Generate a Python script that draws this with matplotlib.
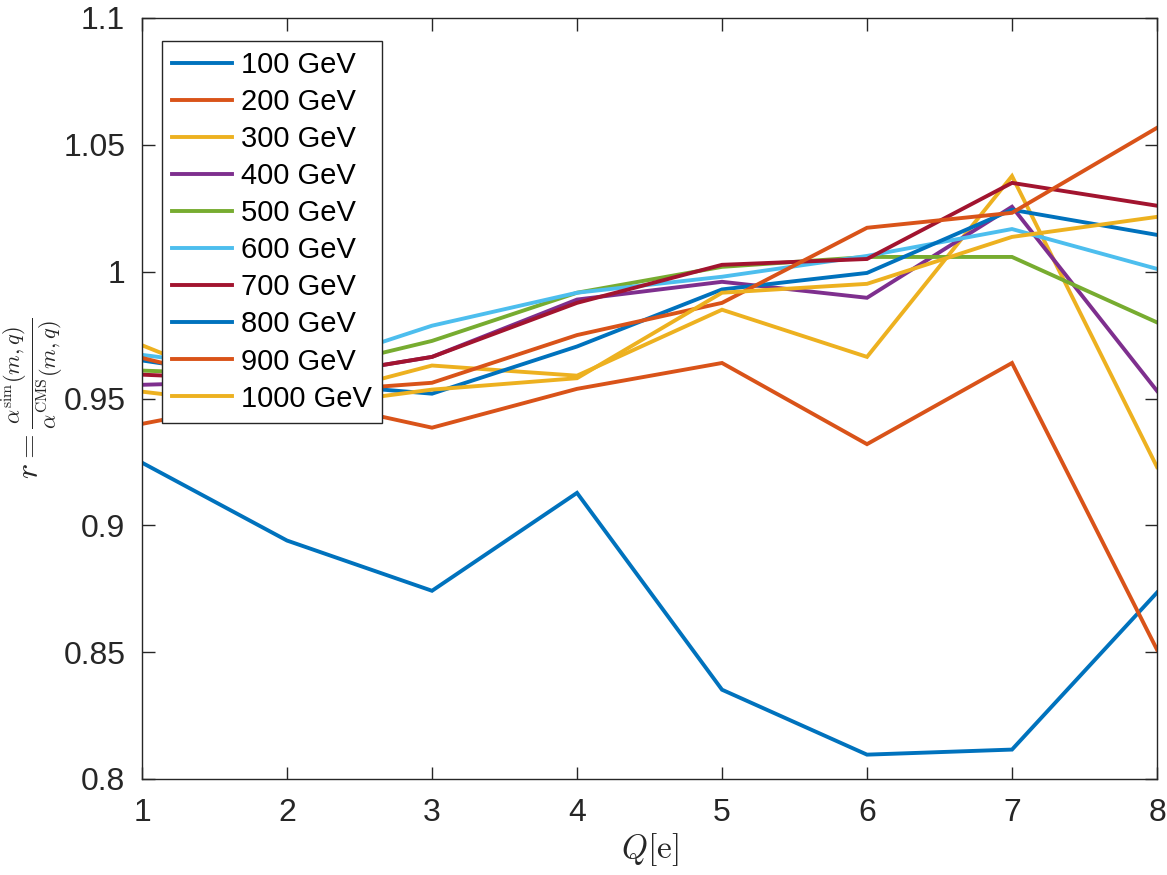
"""Ratio of simulated to CMS alpha versus charge, one line per mass."""

import matplotlib
matplotlib.use("Agg")
import matplotlib.pyplot as plt

plt.rcParams["font.family"] = ["Liberation Sans", "DejaVu Sans"]
plt.rcParams["mathtext.fontset"] = "cm"

charges = [1, 2, 3, 4, 5, 6, 7, 8]
labels = ["100 GeV", "200 GeV", "300 GeV", "400 GeV", "500 GeV",
          "600 GeV", "700 GeV", "800 GeV", "900 GeV", "1000 GeV"]

r_100 = [0.9247, 0.894, 0.8742, 0.9128, 0.8352, 0.8096, 0.8116, 0.8735]
r_200 = [0.940, 0.951, 0.9385, 0.9538, 0.964, 0.932, 0.964, 0.851]
r_300 = [0.971, 0.948, 0.963, 0.959, 0.985, 0.9664, 1.0377, 0.923]
r_400 = [0.9554, 0.957, 0.9664, 0.989, 0.996, 0.9897, 1.0256, 0.953]
r_500 = [0.961, 0.959, 0.9727, 0.9917, 1.0019, 1.0058, 1.0058, 0.980]
r_600 = [0.9672, 0.960, 0.9787, 0.9917, 0.998, 1.0062, 1.0168, 1.0011]
r_700 = [0.9594, 0.957, 0.9664, 0.9877, 1.0027, 1.005, 1.035, 1.026]
r_800 = [0.965, 0.9566, 0.9519, 0.9705, 0.993, 0.9995, 1.0244, 1.0145]
r_900 = [0.966, 0.952, 0.9562, 0.975, 0.9877, 1.0173, 1.0232, 1.0567]
r_1000 = [0.9527, 0.946, 0.9535, 0.958, 0.9917, 0.9952, 1.0137, 1.0216]

series = [r_100, r_200, r_300, r_400, r_500, r_600, r_700, r_800, r_900, r_1000]

# MATLAB default colour order
colors = ["#0072BD", "#D95319", "#EDB120", "#7E2F8E", "#77AC30",
          "#4DBEEE", "#A2142F"]

yticks = [0.8, 0.85, 0.9, 0.95, 1.0, 1.05, 1.1]
ytick_labels = ["0.8", "0.85", "0.9", "0.95", "1", "1.05", "1.1"]

fig = plt.figure(figsize=(11.67, 8.75), dpi=100)
ax = fig.add_axes([142 / 1167, 1 - 779 / 875, 1015 / 1167, 761 / 875])

for i, (vals, lab) in enumerate(zip(series, labels)):
    ax.plot(charges, vals, color=colors[i % len(colors)], lw=2.8,
            label=lab, solid_joinstyle="miter")

ax.set_xlim(1, 8)
ax.set_ylim(0.8, 1.1)
ax.set_xticks(charges)
ax.set_yticks(yticks)
ax.set_yticklabels(ytick_labels)

axcol = "#262626"
for sp in ax.spines.values():
    sp.set_color(axcol)
    sp.set_linewidth(1.0)
ax.tick_params(direction="in", length=9, width=1.0, colors=axcol,
               labelsize=23, top=True, right=True, pad=12)
ax.tick_params(axis="x", pad=14)

ax.set_xlabel(r"$Q[\mathrm{e}]$", fontsize=24, color=axcol, labelpad=2)
ax.set_ylabel(r"$r = \frac{\alpha^{\mathrm{sim}}(m,q)}{\alpha^{\mathrm{CMS}}(m,q)}$",
              fontsize=23, color=axcol)
ax.yaxis.set_label_coords(-0.076, 0.5)

leg = ax.legend(loc="upper left", bbox_to_anchor=(162 / 1167, 1 - 41 / 875),
                bbox_transform=fig.transFigure, fontsize=21, frameon=True,
                fancybox=False, framealpha=1, edgecolor=axcol,
                handlelength=2.05, handletextpad=0.3, labelspacing=0.31,
                borderpad=0.35, borderaxespad=0)
leg.get_frame().set_linewidth(1.0)

fig.savefig("out.png", dpi=100)
plt.close(fig)
